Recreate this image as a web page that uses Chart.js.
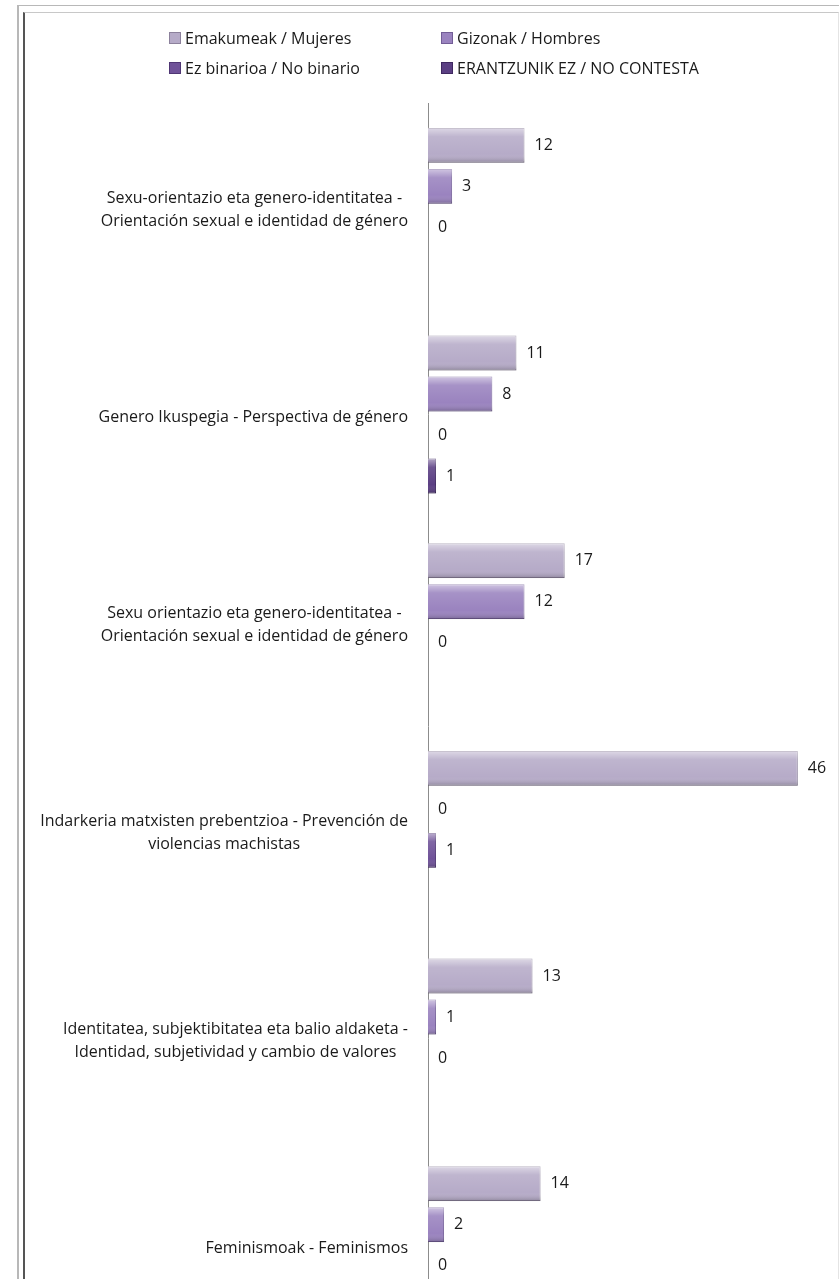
<!DOCTYPE html>
<html>
<head>
<meta charset="utf-8">
<script src="https://cdn.jsdelivr.net/npm/chart.js@4.4.1/dist/chart.umd.min.js"></script>
<style>
  body { margin: 0; background: #fff; font-family: "Open Sans", sans-serif; }
  #wrap { position: relative; width: 839px; height: 1279px; overflow: hidden; }
  #frame-outer { position: absolute; left: 17px; top: 5px; right: 0; bottom: 0;
    border-left: 2px solid #b8b8b8; border-top: 1px solid #b8b8b8; }
  #frame-inner { position: absolute; left: 23px; top: 12px; right: 0; bottom: 0;
    border-left: 2px solid #555; border-top: 1px solid #c8c8c8; border-right: 1px solid #e4e4e4; }
  #box { position: absolute; left: 0; top: 0; width: 839px; height: 1360px; }
  #legend { position: absolute; left: 169px; top: 28px; display: grid;
    grid-template-columns: 272px 280px; row-gap: 11px; font-size: 16px; color: #1a1a1a; }
  #legend div { display: flex; align-items: center; height: 19px; white-space: nowrap; }
  #legend span.sw { width: 10px; height: 10px; margin-right: 4px; display: inline-block; }
</style>
</head>
<body>
<div id="wrap">
  <div id="frame-outer"></div>
  <div id="frame-inner"></div>
  <div id="box"><canvas id="graph"></canvas></div>
  <div id="legend"></div>
</div>
<script>
const categories = [
    ['Sexu-orientazio eta genero-identitatea -', 'Orientación sexual e identidad de género'],
    ['Genero Ikuspegia - Perspectiva de género'],
    ['Sexu orientazio eta genero-identitatea -', 'Orientación sexual e identidad de género'],
    ['Indarkeria matxisten prebentzioa - Prevención de', 'violencias machistas'],
    ['Identitatea, subjektibitatea eta balio aldaketa -', 'Identidad, subjetividad y cambio de valores'],
    ['Feminismoak - Feminismos']
]
const seriesNames = ['Emakumeak / Mujeres', 'Gizonak / Hombres', 'Ez binarioa / No binario', 'ERANTZUNIK EZ / NO CONTESTA']
const mujeres = [12, 11, 17, 46, 13, 14]
const hombres = [3, 8, 12, 0, 1, 2]
const noBinario = [0, 0, 0, 1, 0, 0]
const noContesta = [null, 1, null, null, null, null]

const fills = ['#b6abc8', '#9a83bf', '#6f5298', '#5b3f83']
const edges = ['#8c819c', '#725d96', '#4f3674', '#3f2860']
const FONT = '16px "Open Sans"'

// category labels: block right-aligned, lines centred inside the block
const catLabels = {
    id: 'catLabels',
    afterDraw(chart){
        const ctx = chart.ctx
        const yScale = chart.scales.y
        ctx.save()
        ctx.font = FONT
        ctx.fillStyle = '#1a1a1a'
        ctx.textAlign = 'center'
        ctx.textBaseline = 'middle'
        const lineH = 23
        categories.forEach((lines, i) => {
            const y = yScale.getPixelForValue(i) + 3
            const w = Math.max(...lines.map(l => ctx.measureText(l).width))
            const cx = 408 - w/2
            lines.forEach((l, j) => {
                ctx.fillText(l, cx, y + (j - (lines.length-1)/2)*lineH)
            })
        })
        ctx.restore()
    }
}

// light top edge / dark bottom edge on each bar, like the bevel in the original
const bevel = {
    id: 'bevel',
    afterDatasetsDraw(chart){
        const ctx = chart.ctx
        ctx.save()
        chart.data.datasets.forEach((ds, di) => {
            chart.getDatasetMeta(di).data.forEach((bar, i) => {
                if (!ds.data[i]) return
                const top = bar.y - bar.height/2
                const w = bar.x - bar.base
                const g = ctx.createLinearGradient(0, top, 0, top + bar.height)
                g.addColorStop(0, 'rgba(255,255,255,0.55)')
                g.addColorStop(0.25, 'rgba(255,255,255,0.12)')
                g.addColorStop(0.75, 'rgba(255,255,255,0)')
                g.addColorStop(1, 'rgba(0,0,0,0.22)')
                ctx.fillStyle = g
                ctx.fillRect(bar.base, top, w, bar.height)
            })
        })
        ctx.restore()
    }
}

// value labels to the right of each bar
const valueLabels = {
    id: 'valueLabels',
    afterDatasetsDraw(chart){
        const ctx = chart.ctx
        ctx.save()
        ctx.font = FONT
        ctx.fillStyle = '#1a1a1a'
        ctx.textAlign = 'left'
        ctx.textBaseline = 'middle'
        chart.data.datasets.forEach((ds, di) => {
            chart.getDatasetMeta(di).data.forEach((bar, i) => {
                if (ds.data[i] == null) return
                ctx.fillText(ds.data[i], bar.x + 10, bar.y)
            })
        })
        ctx.restore()
    }
}

const allSeries = [mujeres, hombres, noBinario, noContesta]

const ctx = document.getElementById('graph').getContext('2d')
const graph = new Chart(ctx, {
    type: 'bar',
    data: {
        labels: categories,
        datasets: allSeries.map((data, i) => ({
            label: seriesNames[i],
            data: data,
            backgroundColor: fills[i],
            borderColor: edges[i],
            borderWidth: 1,
            categoryPercentage: 0.79,
            barPercentage: 0.85
        }))
    },
    options: {
        indexAxis: 'y',
        responsive: true,
        maintainAspectRatio: false,
        animation: false,
        layout: {
            padding: { left: 428, right: 9, top: 103, bottom: 11 }
        },
        plugins: {
            legend: { display: false },
            tooltip: { enabled: false }
        },
        scales: {
            x: {
                display: false,
                min: 0,
                max: 50
            },
            y: {
                ticks: { display: false },
                grid: { display: false, drawTicks: false },
                border: { display: true, color: '#8c8c8c', width: 1 }
            }
        }
    },
    plugins: [bevel, valueLabels, catLabels]
})

// html legend in a 2x2 grid
const legendEl = document.getElementById('legend')
seriesNames.forEach((name, i) => {
    const item = document.createElement('div')
    item.innerHTML = `<span class="sw" style="background:${fills[i]};border:1px solid ${edges[i]}"></span>${name}`
    legendEl.appendChild(item)
})
</script>
</body>
</html>
